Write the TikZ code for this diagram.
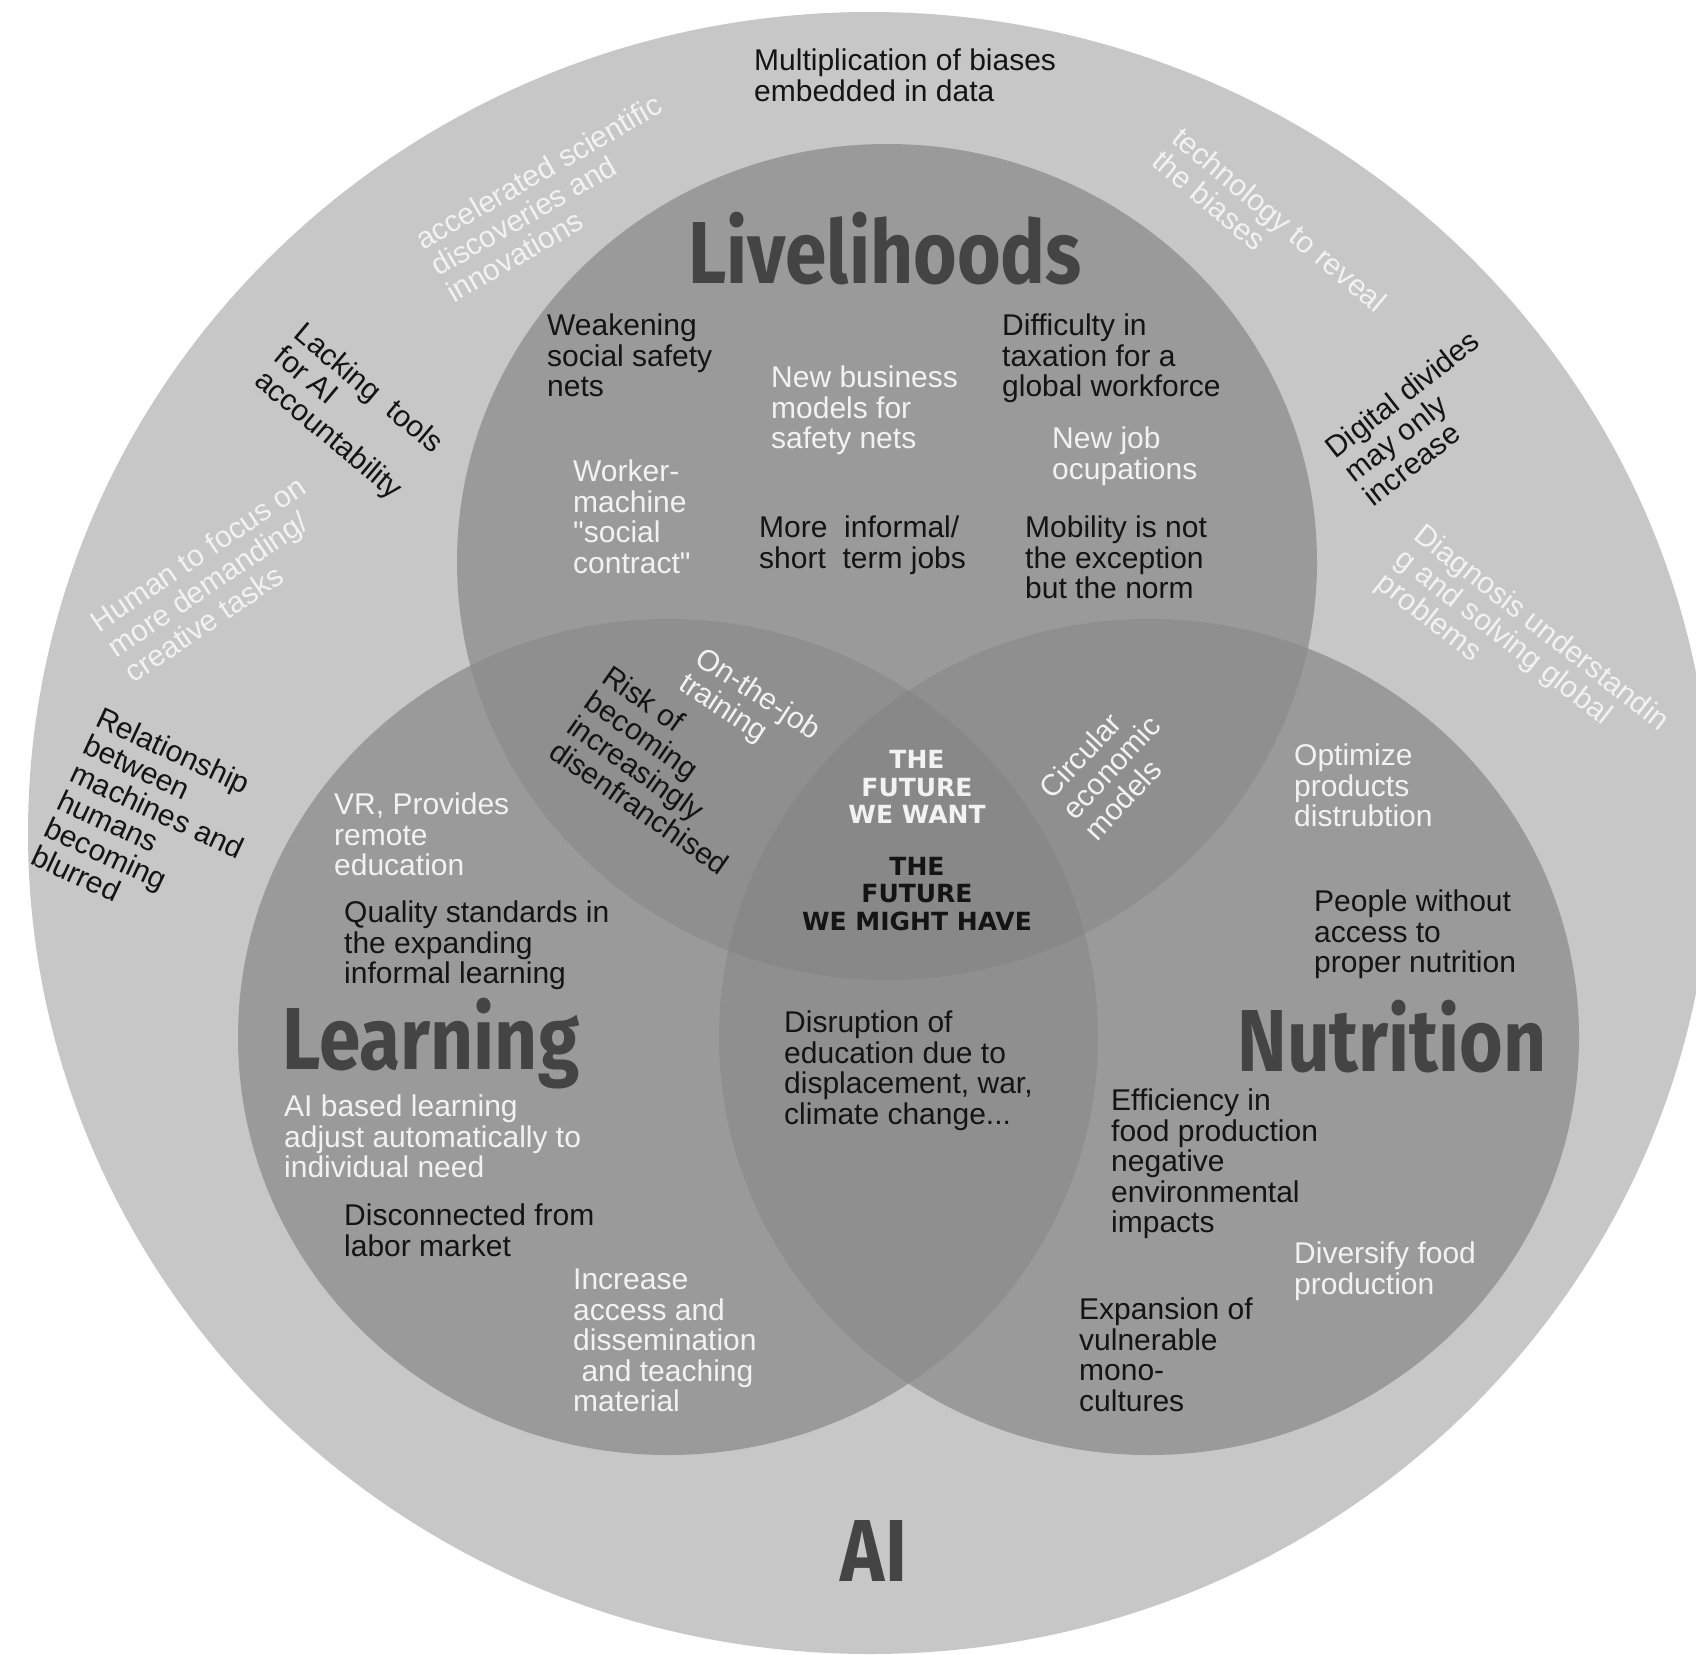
\documentclass[tikz,border=0pt]{standalone}
\usepackage{fontspec}
\setmainfont{Liberation Sans}[Ligatures=TeXOff]
\newfontfamily\titlefont[FakeStretch=0.85]{Fira Sans}
\newfontfamily\futfont{DejaVu Sans}
\definecolor{outerc}{RGB}{199,199,199}
\definecolor{onec}{RGB}{154,154,154}
\definecolor{twoc}{RGB}{143,143,143}
\definecolor{threec}{RGB}{136,136,136}
\definecolor{titlec}{RGB}{68,68,68}
\definecolor{wtext}{RGB}{242,242,242}
\definecolor{btext}{RGB}{20,20,20}
\begin{document}
\begin{tikzpicture}[x=1pt,y=-1pt,
  bodyf/.style={font=\fontsize{30}{30.5}\selectfont, align=left, inner sep=0pt},
  dk/.style={bodyf, text=btext, anchor=north west},
  lt/.style={bodyf, text=wtext, anchor=north west},
  rdk/.style={bodyf, text=btext, anchor=center},
  rlt/.style={bodyf, text=wtext, anchor=center},
  ttl/.style={font=\titlefont\bfseries\fontsize{88}{88}\selectfont, text=titlec, inner sep=0pt, anchor=base},
  fut/.style={font=\futfont\bfseries\fontsize{25}{27.6}\selectfont, align=center, inner sep=0pt}
]
\useasboundingbox (0,0) rectangle (1696,1654);
\fill[white] (0,0) rectangle (1696,1654);
% outer AI field
\fill[outerc] (870,833) ellipse [x radius=842, y radius=821];
% three circles
\def\LivC{(887,562) ellipse [x radius=430, y radius=418]}
\def\LeaC{(668,1037) ellipse [x radius=430, y radius=418]}
\def\NutC{(1149,1037) ellipse [x radius=430, y radius=418]}
\fill[onec] \LivC;
\fill[onec] \LeaC;
\fill[onec] \NutC;
\begin{scope}\clip \LivC; \fill[twoc] \LeaC; \fill[twoc] \NutC; \end{scope}
\begin{scope}\clip \LeaC; \fill[twoc] \NutC; \end{scope}
\begin{scope}\clip \LivC; \clip \LeaC; \fill[threec] \NutC; \end{scope}

% titles
\node[ttl] (tliv) at (885,283) {Livelihoods};
\node[ttl] (tlea) at (431,1069) {Learning};
\node[ttl] (tnut) at (1392,1071) {Nutrition};
\node[ttl] (tai) at (874,1581) {AI};

% outer ring texts
\node[dk] (mult) at (754,49) {Multiplication of biases\\embedded in data};
\node[rlt, rotate=30] (accel) at (554,198) {accelerated scientific\\discoveries and\\innovations};
\node[rlt, rotate=-40] (tech) at (1270,231) {technology to reveal\\the biases};
\node[rdk, rotate=-40] (lack) at (348,413) {Lacking \ tools\\for AI\\accountability};
\node[rlt, rotate=34] (human) at (215,579) {Human to focus on\\more demanding/\\creative tasks};
\node[rdk, rotate=-25] (relat) at (151,824) {Relationship\\between\\machines and\\humans\\becoming\\blurred};
\node[rdk, rotate=38] (digit) at (1421,418) {Digital divides\\may only\\increase};
\node[rlt, rotate=-38] (diag) at (1522,653) {Diagnosis understandin\\g and solving global\\problems};

% Livelihoods
\node[dk] (weak) at (547,314) {Weakening\\social safety\\nets};
\node[lt] (newbiz) at (771,366) {New business\\models for\\safety nets};
\node[dk] (diff) at (1002,314) {Difficulty in\\taxation for a\\global workforce};
\node[lt] (worker) at (573,460) {Worker-\\machine\\"social\\contract"};
\node[lt] (newjob) at (1052,427) {New job\\ocupations};
\node[dk] (more) at (759,516) {More \ informal/\\short \ term jobs};
\node[dk] (mobil) at (1025,516) {Mobility is not\\the exception\\but the norm};

% overlaps with Livelihoods
\node[rlt, rotate=-33] (onjob) at (749,708) {On-the-job\\training};
\node[rdk, rotate=-35] (risk) at (666,770) {Risk of\\becoming\\increasingly\\disenfranchised};
\node[rlt, rotate=47] (circ) at (1111,767) {Circular\\economic\\models};

% centre
\node[fut, text=wtext] (want) at (917,787) {THE\\FUTURE\\WE WANT};
\node[fut, text=btext] (might) at (917,894) {THE\\FUTURE\\WE MIGHT HAVE};

% Learning
\node[lt] (vr) at (334,793) {VR, Provides\\remote\\education};
\node[dk] (qual) at (344,901) {Quality standards in\\the expanding\\informal learning};
\node[lt] (aib) at (284,1095) {AI based learning\\adjust automatically to\\individual need};
\node[dk] (disc) at (344,1204) {Disconnected from\\labor market};
\node[lt] (incr) at (573,1269) {Increase\\access and\\dissemination\\\ and teaching\\material};

% Learning & Nutrition
\node[dk] (disr) at (784,1011) {Disruption of\\education due to\\displacement, war,\\climate change...};

% Nutrition
\node[lt] (optim) at (1294,744) {Optimize\\products\\distrubtion};
\node[dk] (peop) at (1314,890) {People without\\access to\\proper nutrition};
\node[dk] (effic) at (1111,1089) {Efficiency in\\food production\\negative\\environmental\\impacts};
\node[lt] (divers) at (1294,1242) {Diversify food\\production};
\node[dk] (expan) at (1079,1298) {Expansion of\\vulnerable\\mono-\\cultures};
\end{tikzpicture}
\end{document}
